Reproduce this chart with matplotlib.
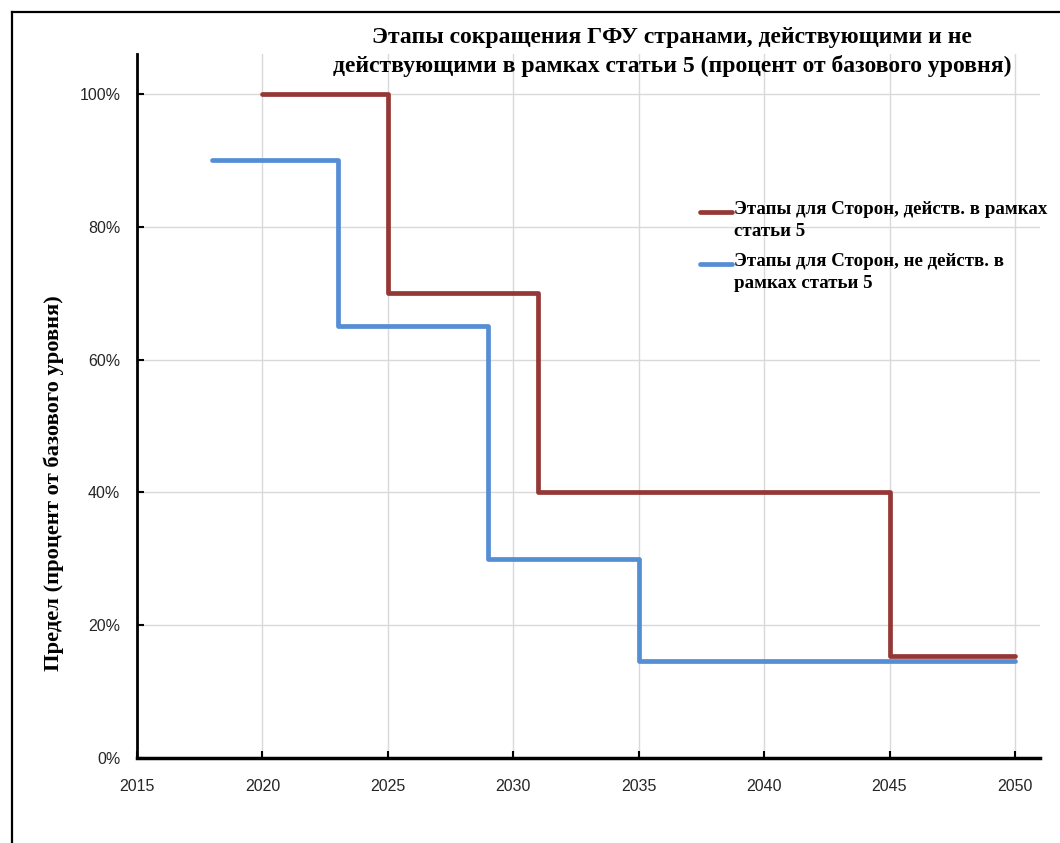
import matplotlib
matplotlib.use('Agg')
import matplotlib.pyplot as plt
from matplotlib.lines import Line2D
from matplotlib.ticker import MultipleLocator, FuncFormatter

# Stepped targets, percent of baseline
years_a5 = [2020, 2025, 2031, 2045, 2050]
limit_a5 = [1.00, 0.70, 0.40, 0.153, 0.153]

years_na5 = [2018, 2023, 2029, 2035, 2050]
limit_na5 = [0.90, 0.65, 0.30, 0.146, 0.146]

labels = ['Этапы для Сторон, действ. в рамках\nстатьи 5',
          'Этапы для Сторон, не действ. в\nрамках статьи 5']
colors = ['#953735', '#558ED5']

title = ('Этапы сокращения ГФУ странами, действующими и не\n'
         'действующими в рамках статьи 5 (процент от базового уровня)')
ylabel = 'Предел (процент от базового уровня)'

serif = ['Liberation Serif', 'DejaVu Serif']
sans = ['Liberation Sans Narrow', 'Liberation Sans', 'DejaVu Sans']

fig = plt.figure(figsize=(10.6, 8.43), dpi=100)
ax = fig.add_axes([137 / 1060, 85 / 843, 903 / 1060, 704 / 843])

# frame around the picture (left and top only)
fig.add_artist(Line2D([12 / 1060, 12 / 1060], [0, 1 - 12 / 843], color='black', lw=1.6))
fig.add_artist(Line2D([12 / 1060, 1], [1 - 12 / 843, 1 - 12 / 843], color='black', lw=1.6))

ax.step(years_a5, limit_a5, where='post', color=colors[0], lw=3.4,
        solid_capstyle='round', zorder=3)
ax.step(years_na5, limit_na5, where='post', color=colors[1], lw=3.4,
        solid_capstyle='round', zorder=3)

ax.set_xlim(2015, 2051)
ax.set_ylim(0, 1.06)
ax.xaxis.set_major_locator(MultipleLocator(5))
ax.yaxis.set_major_locator(MultipleLocator(0.2))
ax.yaxis.set_major_formatter(FuncFormatter(lambda v, p: '{:.0f}%'.format(v * 100)))

ax.grid(True, color='#D9D9D9', lw=1)
ax.set_axisbelow(True)
for s in ['top', 'right']:
    ax.spines[s].set_visible(False)
ax.spines['left'].set_linewidth(2)
ax.spines['bottom'].set_linewidth(2.5)

ax.tick_params(direction='in', length=5, width=1.5, colors='black', labelcolor='#262626')
ax.tick_params(axis='x', pad=15)
ax.tick_params(axis='y', pad=12)
for lab in ax.get_xticklabels() + ax.get_yticklabels():
    lab.set_family(sans)
    lab.set_fontsize(11.5)

ax.set_ylabel(ylabel, family=serif, fontweight='bold', fontsize=16.2)
ax.yaxis.set_label_coords(-0.081, 0.39)

fig.text(672 / 1060, 1 - 52 / 843, title, family=serif, fontweight='bold',
         fontsize=17, ha='center', va='center', linespacing=1.42)

# legend drawn by hand so the line sits at the first text line
leg_y = [0.776, 0.702]
for lab, col, y in zip(labels, colors, leg_y):
    ax.add_line(Line2D([0.624, 0.659], [y, y], transform=ax.transAxes,
                       color=col, lw=3.4, solid_capstyle='round'))
    ax.text(0.661, y + 0.015, lab, transform=ax.transAxes, family=serif,
            fontweight='bold', fontsize=13.6, va='top', ha='left', linespacing=1.35)

fig.savefig('out.png', dpi=100)
